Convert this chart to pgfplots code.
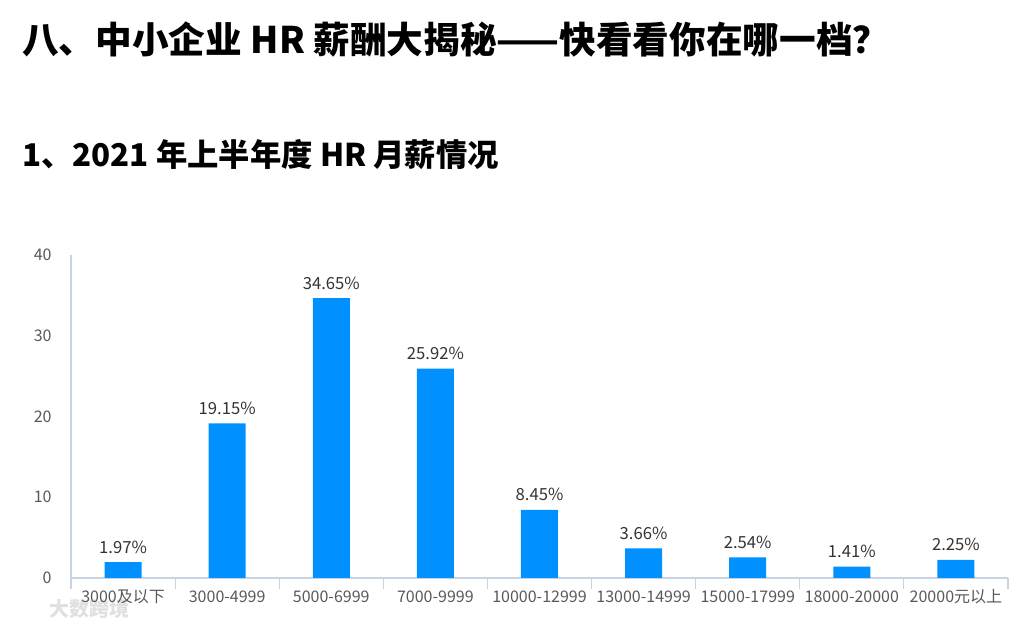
\documentclass[border=0pt]{standalone}
\usepackage{fontspec}
\setmainfont{Noto Sans CJK SC}
\usepackage{pgfplots}
\pgfplotsset{compat=1.18}
\definecolor{barblue}{RGB}{0,144,255}
\definecolor{axisgray}{RGB}{200,212,227}
\definecolor{ticktext}{RGB}{89,89,89}
\definecolor{lbltext}{RGB}{51,51,51}
\begin{document}
\begin{tikzpicture}
\path[use as bounding box] (0pt,0pt) rectangle (769.5pt,471.75pt);
\node[anchor=west, inner sep=0pt, font=\fontsize{27.5pt}{30pt}\selectfont\bfseries] at (16.5pt,441.75pt) {八、中小企业 HR 薪酬大揭秘——快看看你在哪一档？};
\node[anchor=west, inner sep=0pt, font=\fontsize{23.5pt}{26pt}\selectfont\bfseries] at (16.5pt,355.5pt) {1、2021 年上半年度 HR 月薪情况};
\node[anchor=west, inner sep=0pt, text=black!12, font=\fontsize{15pt}{17pt}\selectfont\bfseries] at (37pt,15pt) {大数跨境};
\begin{axis}[
  at={(53.25pt,38.25pt)}, anchor=south west,
  scale only axis, width=702.75pt, height=242.25pt,
  xmin=-0.5, xmax=8.5, ymin=0, ymax=40,
  axis lines*=left,
  axis line style={axisgray, line width=0.9pt},
  ytick={0,10,20,30,40},
  xtick={0,1,2,3,4,5,6,7,8},
  xticklabels={3000及以下,3000-4999,5000-6999,7000-9999,10000-12999,13000-14999,15000-17999,18000-20000,20000元以上},
  major tick length=0pt,
  extra x ticks={-0.5,0.5,1.5,2.5,3.5,4.5,5.5,6.5,7.5,8.5},
  extra x tick labels={},
  extra x tick style={major tick length=8pt, tick align=outside, tick style={axisgray, line width=0.9pt}},
  /pgf/number format/assume math mode=true,
  ticklabel style={font=\fontsize{12pt}{14pt}\selectfont, text=ticktext},
  yticklabel style={xshift=-11pt},
  xticklabel style={anchor=north, yshift=-10pt, text height=0.8em, text depth=0.15em, inner sep=0pt},
  clip=false,
  ybar, bar width=27.75pt,
  nodes near coords,
  point meta=explicit symbolic,
  every node near coord/.append style={font=\fontsize{12.5pt}{14pt}\selectfont, text=lbltext, yshift=3pt},
]
\addplot[fill=barblue, draw=none] coordinates {
  (0,1.97) [1.97\%]
  (1,19.15) [19.15\%]
  (2,34.65) [34.65\%]
  (3,25.92) [25.92\%]
  (4,8.45) [8.45\%]
  (5,3.66) [3.66\%]
  (6,2.54) [2.54\%]
  (7,1.41) [1.41\%]
  (8,2.25) [2.25\%]
};
\end{axis}
\end{tikzpicture}
\end{document}
